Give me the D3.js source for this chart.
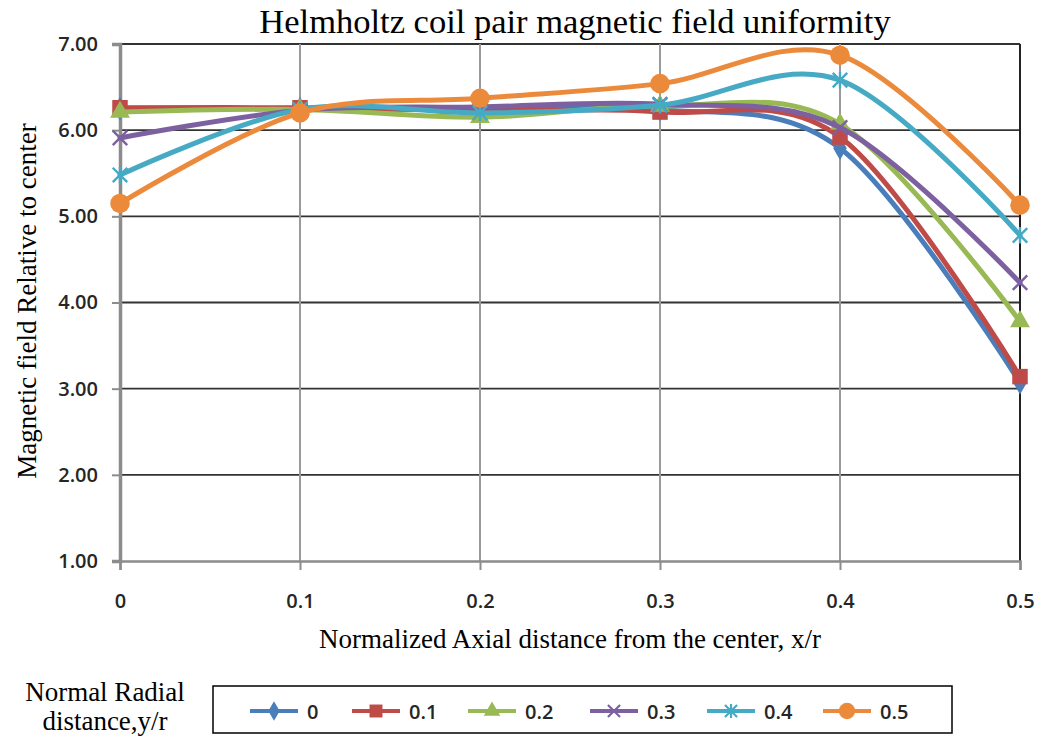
<!DOCTYPE html>
<html>
<head>
<meta charset="utf-8">
<script src="https://cdn.jsdelivr.net/npm/d3@7"></script>
<style>
  body { margin: 0; background: #fff; }
  .tick text { font-family: "Open Sans", sans-serif; font-size: 20px; font-weight: 600; fill: #262626; }
  .ttl { font-family: "Liberation Serif", "Times New Roman", serif; fill: #000; }
</style>
</head>
<body>
<svg id="main"></svg>
<script>
// data
var xValues = [0, 0.1, 0.2, 0.3, 0.4, 0.5];
var xTickLabels = ["0", "0.1", "0.2", "0.3", "0.4", "0.5"];
var yTicks = [1, 2, 3, 4, 5, 6, 7];
var seriesNames = ["0", "0.1", "0.2", "0.3", "0.4", "0.5"];
var s00 = [6.25, 6.25, 6.24, 6.24, 5.79, 3.07];
var s01 = [6.26, 6.26, 6.23, 6.21, 5.92, 3.14];
var s02 = [6.21, 6.24, 6.15, 6.28, 6.07, 3.78];
var s03 = [5.91, 6.23, 6.27, 6.30, 6.03, 4.23];
var s04 = [5.48, 6.24, 6.20, 6.29, 6.58, 4.78];
var s05 = [5.15, 6.20, 6.37, 6.54, 6.87, 5.13];
var seriesValues = [s00, s01, s02, s03, s04, s05];
var colors = ["#4A7EBB", "#BE4B48", "#98B954", "#7D60A0", "#46AAC5", "#EC8A3C"];

var w = 1039;
var h = 738;
var padLeft = 120, padRight = 1020, padTop = 44, padBottom = 561;

var svg = d3.select("#main")
  .attr("width", w)
  .attr("height", h);

var xScale = d3.scaleLinear().domain([0, 0.5]).range([padLeft, padRight]);
var yScale = d3.scaleLinear().domain([1, 7]).range([padBottom, padTop]);

// custom stroke markers (Excel style x and star)
var symX = {
  draw: function(ctx, size) {
    var r = Math.sqrt(size) / 2;
    ctx.moveTo(-r, -r); ctx.lineTo(r, r);
    ctx.moveTo(r, -r); ctx.lineTo(-r, r);
  }
};
var symStar = {
  draw: function(ctx, size) {
    var r = Math.sqrt(size) / 2;
    ctx.moveTo(-r, -r); ctx.lineTo(r, r);
    ctx.moveTo(r, -r); ctx.lineTo(-r, r);
    ctx.moveTo(0, -r * 1.15); ctx.lineTo(0, r * 1.15);
  }
};
var markers = [
  { type: d3.symbolDiamond, size: 160, fill: true },
  { type: d3.symbolSquare, size: 240, fill: true },
  { type: d3.symbolTriangle, size: 170, fill: true },
  { type: symX, size: 210, fill: false },
  { type: symStar, size: 210, fill: false },
  { type: d3.symbolCircle, size: 300, fill: true }
];

// gridlines
svg.append("g").selectAll("line")
  .data(yTicks.slice(1))
  .enter().append("line")
  .attr("x1", padLeft).attr("x2", padRight)
  .attr("y1", function(d) { return yScale(d); })
  .attr("y2", function(d) { return yScale(d); })
  .attr("stroke", "#333")
  .attr("stroke-width", 1.8);

svg.append("g").selectAll("line")
  .data(xValues.slice(1))
  .enter().append("line")
  .attr("x1", function(d) { return xScale(d); })
  .attr("x2", function(d) { return xScale(d); })
  .attr("y1", padTop).attr("y2", padBottom)
  .attr("stroke", function(d, i) { return i == 4 ? "#222" : "#9a9a9a"; })
  .attr("stroke-width", 2);

// axes
var xAxis = d3.axisBottom(xScale)
  .tickValues(xValues)
  .tickFormat(function(d, i) { return xTickLabels[i]; })
  .tickSize(9)
  .tickPadding(24);
var yAxis = d3.axisLeft(yScale)
  .tickValues(yTicks)
  .tickFormat(d3.format(".2f"))
  .tickSize(8)
  .tickPadding(14);

var gx = svg.append("g")
  .attr("transform", "translate(0," + padBottom + ")")
  .call(xAxis);
gx.select(".domain").attr("stroke", "#8c8c8c").attr("stroke-width", 2.5);
gx.selectAll(".tick line").attr("stroke", "#8c8c8c").attr("stroke-width", 2);

var gy = svg.append("g")
  .attr("transform", "translate(" + padLeft + ",0)")
  .call(yAxis);
gy.select(".domain").attr("stroke", "#8c8c8c").attr("stroke-width", 3.5);
gy.selectAll(".tick line").attr("stroke", "#8c8c8c").attr("stroke-width", 2);

// lines and markers
var line = d3.line()
  .x(function(d, i) { return xScale(xValues[i]); })
  .y(function(d) { return yScale(d); })
  .curve(d3.curveCardinal.tension(0));

seriesValues.forEach(function(vals, k) {
  var g = svg.append("g");
  g.append("path")
    .attr("d", line(vals))
    .attr("fill", "none")
    .attr("stroke", colors[k])
    .attr("stroke-width", 5)
    .attr("stroke-linejoin", "round")
    .attr("stroke-linecap", "round");
  var m = markers[k];
  g.selectAll("path.mk")
    .data(vals)
    .enter().append("path")
    .attr("class", "mk")
    .attr("transform", function(d, i) {
      return "translate(" + xScale(xValues[i]) + "," + yScale(d) + ")";
    })
    .attr("d", d3.symbol().type(m.type).size(m.size))
    .attr("fill", m.fill ? colors[k] : "none")
    .attr("stroke", colors[k])
    .attr("stroke-width", m.fill ? 0 : 2.4);
});

// titles
svg.append("text").attr("class", "ttl")
  .attr("x", 575).attr("y", 33)
  .attr("text-anchor", "middle")
  .style("font-size", "34.5px")
  .text("Helmholtz coil pair magnetic field uniformity");

svg.append("text").attr("class", "ttl")
  .attr("x", 570).attr("y", 648)
  .attr("text-anchor", "middle")
  .style("font-size", "27px")
  .text("Normalized Axial distance from the center, x/r");

svg.append("text").attr("class", "ttl")
  .attr("transform", "translate(36,301) rotate(-90)")
  .attr("text-anchor", "middle")
  .style("font-size", "27px")
  .text("Magnetic field Relative to center");

// legend
svg.append("text").attr("class", "ttl")
  .attr("x", 105).attr("y", 701)
  .attr("text-anchor", "middle")
  .style("font-size", "27px")
  .text("Normal Radial");
svg.append("text").attr("class", "ttl")
  .attr("x", 105).attr("y", 730)
  .attr("text-anchor", "middle")
  .style("font-size", "27px")
  .text("distance,y/r");

svg.append("rect")
  .attr("x", 213).attr("y", 686)
  .attr("width", 739).attr("height", 47)
  .attr("fill", "#fff")
  .attr("stroke", "#000")
  .attr("stroke-width", 1.5);

var legX = [250, 352, 468, 590, 707, 823];
var leg = svg.selectAll("g.leg")
  .data(seriesNames)
  .enter().append("g")
  .attr("class", "leg")
  .attr("transform", function(d, i) { return "translate(" + legX[i] + ",711)"; });
leg.append("line")
  .attr("x1", 0).attr("x2", 48)
  .attr("stroke", function(d, i) { return colors[i]; })
  .attr("stroke-width", 4);
leg.append("path")
  .attr("transform", "translate(24,0)")
  .attr("d", function(d, i) {
    return d3.symbol().type(markers[i].type).size(markers[i].size * 0.7)();
  })
  .attr("fill", function(d, i) { return markers[i].fill ? colors[i] : "none"; })
  .attr("stroke", function(d, i) { return colors[i]; })
  .attr("stroke-width", function(d, i) { return markers[i].fill ? 0 : 2.2; });
leg.append("text")
  .attr("x", 57).attr("y", 8)
  .style("font-family", "'Open Sans', sans-serif")
  .style("font-size", "20px")
  .style("font-weight", "600")
  .attr("fill", "#262626")
  .text(function(d) { return d; });
</script>
</body>
</html>
